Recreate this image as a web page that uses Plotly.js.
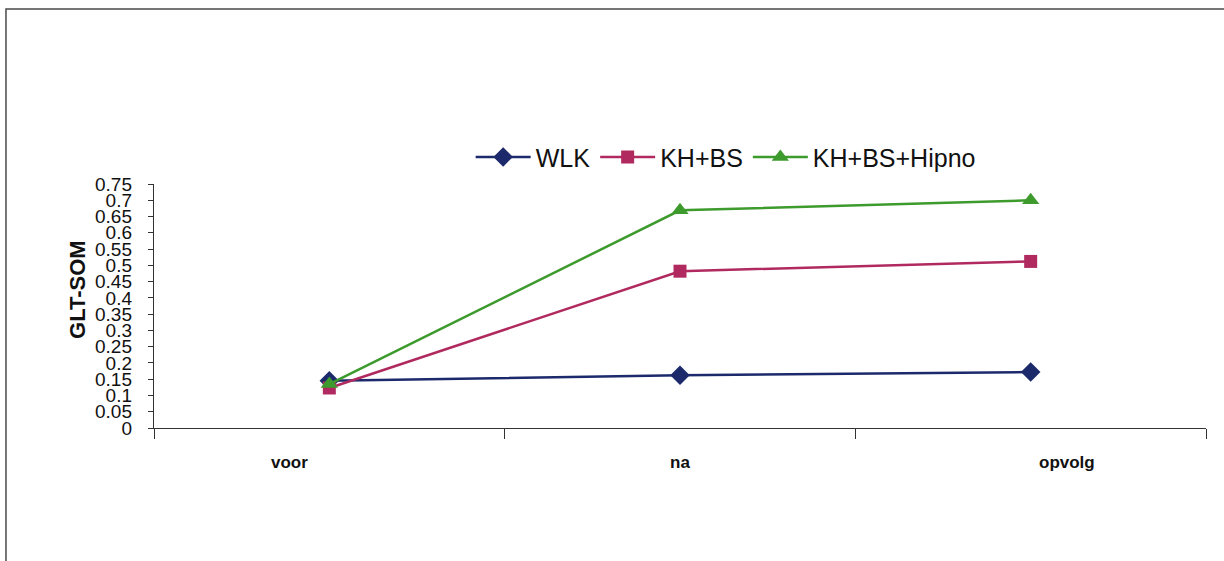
<!DOCTYPE html>
<html>
<head>
<meta charset="utf-8">
<script src="https://cdn.plot.ly/plotly-3.0.1.min.js"></script>
<style>
  html, body { margin: 0; padding: 0; background: #ffffff; }
  #chart { width: 1224px; height: 561px; }
</style>
</head>
<body>
<div id="chart"></div>
<script>
// Measurement moments
const categories = ["voor", "na", "opvolg"];

// GLT-SOM per group
const wlk = [0.145, 0.162, 0.172];
const khbs = [0.123, 0.482, 0.512];
const khbsHipno = [0.135, 0.669, 0.700];

const seriesNames = ["WLK", "KH+BS", "KH+BS+Hipno"];

// Y-axis ticks
const yTickVals = [0, 0.05, 0.1, 0.15, 0.2, 0.25, 0.3, 0.35, 0.4, 0.45, 0.5, 0.55, 0.6, 0.65, 0.7, 0.75];
const yTickLabels = ["0", "0.05", "0.1", "0.15", "0.2", "0.25", "0.3", "0.35", "0.4", "0.45", "0.5", "0.55", "0.6", "0.65", "0.7", "0.75"];

const FONT = "Liberation Sans, Arial, sans-serif";

// horizontal nudge (px) of each category label under the axis
const CATEGORY_LABEL_NUDGE = { voor: -40, na: 0, opvolg: 36 };

const traces = [
  {
    x: categories, y: wlk, name: seriesNames[0], type: "scatter", mode: "lines+markers",
    line: { color: "#1c2a6c", width: 2.5 },
    marker: { symbol: "diamond", size: 15, color: "#1c2a6c" }
  },
  {
    x: categories, y: khbs, name: seriesNames[1], type: "scatter", mode: "lines+markers",
    line: { color: "#b02a5f", width: 2.5 },
    marker: { symbol: "square", size: 13, color: "#b02a5f" }
  },
  {
    x: categories, y: khbsHipno, name: seriesNames[2], type: "scatter", mode: "lines+markers",
    line: { color: "#3d9a2d", width: 2.5 },
    marker: { symbol: "triangle-up", size: 15, color: "#3d9a2d" }
  }
];

// category labels below the x axis
const categoryAnnotations = categories.map(c => ({
  x: c, xref: "x",
  y: -0.143, yref: "paper",
  xanchor: "center", yanchor: "middle",
  xshift: CATEGORY_LABEL_NUDGE[c],
  showarrow: false,
  text: c,
  font: { family: FONT, size: 17, color: "#111111", weight: "bold" }
}));

const layout = {
  width: 1224,
  height: 561,
  paper_bgcolor: "#ffffff",
  plot_bgcolor: "#ffffff",
  margin: { l: 154, r: 18, t: 184, b: 133 },
  font: { family: FONT, color: "#000000" },
  showlegend: true,
  legend: {
    orientation: "h",
    x: 0.301, xanchor: "left",
    y: 1.11, yanchor: "middle",
    font: { family: FONT, size: 25, color: "#111111" },
    bgcolor: "rgba(0,0,0,0)",
    itemwidth: 55,
    tracegroupgap: 0
  },
  xaxis: {
    type: "category",
    range: [-0.5, 2.5],
    tickson: "boundaries",
    ticks: "outside",
    ticklen: 10,
    tickcolor: "#333333",
    showline: true,
    linecolor: "#333333",
    linewidth: 1.2,
    showgrid: false,
    zeroline: false,
    showticklabels: false
  },
  yaxis: {
    range: [0, 0.75],
    tickmode: "array",
    tickvals: yTickVals,
    ticktext: yTickLabels,
    ticks: "outside",
    ticklen: 5,
    tickcolor: "#333333",
    showline: true,
    linecolor: "#333333",
    linewidth: 1.2,
    showgrid: false,
    zeroline: false,
    ticklabelstandoff: 12,
    tickfont: { family: FONT, size: 19, color: "#111111" }
  },
  annotations: [
    {
      x: -0.0722, xref: "paper",
      y: 0.566, yref: "paper",
      xanchor: "center", yanchor: "middle",
      textangle: -90,
      showarrow: false,
      text: "GLT-SOM",
      font: { family: FONT, size: 22, color: "#111111", weight: "bold" }
    }
  ].concat(categoryAnnotations),
  shapes: [
    // outer frame: left and top edges
    {
      type: "path", xref: "paper", yref: "paper",
      path: "M -0.1407,-0.7 L -0.1407,1.717 L 1.05,1.717",
      line: { color: "#4a4a4a", width: 1.5 }
    }
  ]
};

Plotly.newPlot("chart", traces, layout, { displayModeBar: false, staticPlot: true });
</script>
</body>
</html>
